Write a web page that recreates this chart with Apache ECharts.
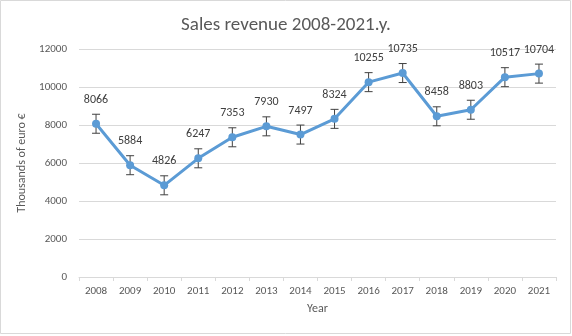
<!DOCTYPE html>
<html><head><meta charset="utf-8">
<script src="https://cdn.jsdelivr.net/npm/echarts@6/dist/echarts.min.js"></script>
<style>html,body{margin:0;padding:0;background:#fff}#c{width:572px;height:336px}</style>
</head><body><div id="c"></div>
<script>
const years = ['2008','2009','2010','2011','2012','2013','2014','2015','2016','2017','2018','2019','2020','2021'];
const revenue = [8066,5884,4826,6247,7353,7930,7497,8324,10255,10735,8458,8803,10517,10704];
const errorAmount = [500,500,500,500,500,500,500,500,500,500,500,500,500,500];
const yTicks = [0,2000,4000,6000,8000,10000,12000];

const chart = echarts.init(document.getElementById('c'), null, {renderer:'canvas'});
const errData = years.map((y,i)=>[i, revenue[i]-errorAmount[i], revenue[i]+errorAmount[i]]);
const font = 'Calibri, Carlito, "Open Sans", "Liberation Sans", sans-serif';
chart.setOption({
  animation:false,
  textStyle:{fontFamily:font},
  graphic:[{type:'rect',shape:{x:0.5,y:0.5,width:570,height:333},style:{fill:null,stroke:'#d9d9d9',lineWidth:1}}],
  title:{text:'Sales revenue 2008-2021.y.',left:'center',top:11,textStyle:{fontFamily:font,fontSize:19,fontWeight:'normal',color:'#595959'}},
  grid:{left:79,right:16,top:49,bottom:59},
  xAxis:{type:'category',data:years,boundaryGap:true,name:'Year',nameLocation:'middle',nameGap:26,
    nameTextStyle:{color:'#595959',fontSize:12,fontFamily:font},
    axisLine:{lineStyle:{color:'#d9d9d9'}},axisTick:{show:true,alignWithLabel:false,length:4,lineStyle:{color:'#d9d9d9'}},
    axisLabel:{color:'#595959',fontSize:11,margin:9,fontFamily:font}},
  yAxis:{type:'value',min:yTicks[0],max:yTicks[yTicks.length-1],interval:2000,name:'Thousands of euro €',nameLocation:'middle',nameGap:47,
    nameTextStyle:{color:'#595959',fontSize:12,fontFamily:font},
    axisLine:{show:false},axisTick:{show:false},
    splitLine:{lineStyle:{color:'#d9d9d9'}},
    axisLabel:{color:'#595959',fontSize:11,margin:12,fontFamily:font,formatter:v=>String(v)}},
  series:[
    {type:'custom',data:errData,z:1,renderItem:function(params,api){
      const x=api.value(0);const lo=api.coord([x,api.value(1)]);const hi=api.coord([x,api.value(2)]);
      const w=4;const st={stroke:'#404040',lineWidth:1};
      return {type:'group',children:[
        {type:'line',shape:{x1:lo[0],y1:lo[1],x2:hi[0],y2:hi[1]},style:st},
        {type:'line',shape:{x1:lo[0]-w,y1:lo[1],x2:lo[0]+w,y2:lo[1]},style:st},
        {type:'line',shape:{x1:hi[0]-w,y1:hi[1],x2:hi[0]+w,y2:hi[1]},style:st}]};
    }},
    {type:'line',data:revenue,z:3,symbol:'circle',symbolSize:8,
     itemStyle:{color:'#5b9bd5'},lineStyle:{color:'#5b9bd5',width:3},
     label:{show:true,position:'top',distance:14,color:'#404040',fontSize:12,fontFamily:font}}
  ]
});
</script></body></html>
